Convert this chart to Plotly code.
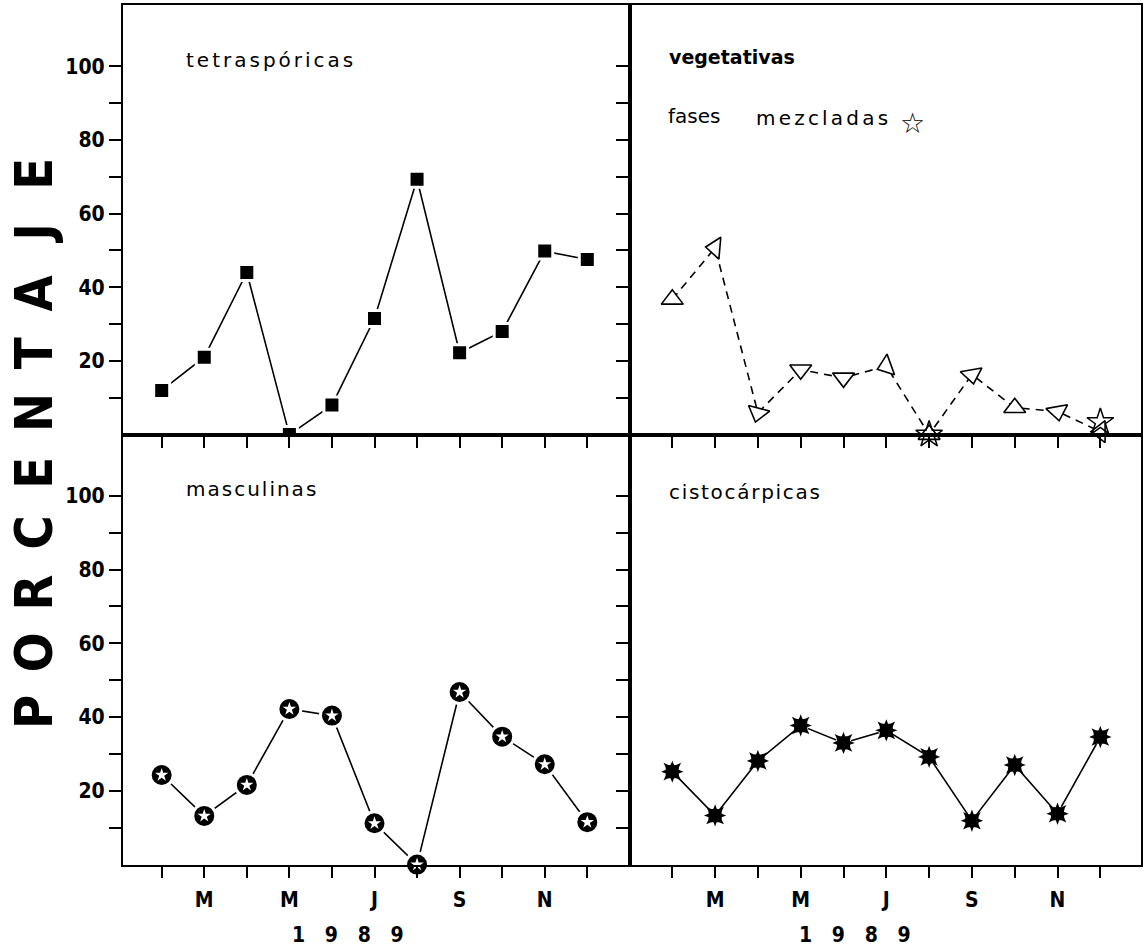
import plotly.graph_objects as go

# ---------------- data ----------------
months = [2, 3, 4, 5, 6, 7, 8, 9, 10, 11, 12]          # Feb .. Dec 1989
month_ticktext = ["", "M", "", "M", "", "J", "", "S", "", "N", ""]
year_text = "1\u00a0\u00a0\u00a09\u00a0\u00a0\u00a08\u00a0\u00a0\u00a09"
y_tickvals = [10, 20, 30, 40, 50, 60, 70, 80, 90, 100]
y_ticktext = ["", "20", "", "40", "", "60", "", "80", "", "100"]

tetrasporicas = [12, 21, 44, 0, 8, 31.5, 69.3, 22.2, 28, 49.8, 47.5]
vegetativas = [36.7, 50.7, 5.9, 17.6, 15.4, 18.6, 0, 16.3, 7.3, 6.3, 0.8]
mezcladas = [None, None, None, None, None, None, 0, None, None, None, 3.4]
masculinas = [24.3, 13.2, 21.6, 42.2, 40.4, 11.2, 0, 46.8, 34.7, 27.2, 11.5]
cistocarpicas = [25.2, 13.3, 28.1, 37.7, 33.0, 36.4, 29.2, 11.9, 27.0, 13.8, 34.6]

panel_titles = ["tetraspóricas", "vegetativas", "masculinas", "cistocárpicas"]
legend_words = ["fases", "mezcladas"]
y_title = "PORCENTAJE"

# marker orientation styles for the vegetative triangles
veg_angles = [0, -85, 195, 180, 180, 250, 0, 170, 0, 170, -90]

# ---------------- layout helpers ----------------
W, H = 1144, 948
def px(x):
    return x / W
def py(y):
    return 1 - y / H

xl = [px(123), px(630)]
xr = [px(630), px(1141)]
yt = [py(434.6), py(5)]
yb = [py(864.6), py(434.6)]
xrange_l = [1.091, 13.003]
xrange_r = [1.012, 12.95]
yrange = [0, 116.6]

tick_font = dict(family="DejaVu Sans Condensed, Liberation Sans Narrow, DejaVu Sans", size=21,
                 color="black", weight="bold")
label_font = dict(family="DejaVu Sans, Lato, sans-serif", size=20, color="black")

fig = go.Figure()

line_style = dict(color="black", width=1.6)

# tetrasporicas
fig.add_trace(go.Scatter(x=months, y=tetrasporicas, mode="lines+markers", xaxis="x", yaxis="y",
                         line=line_style,
                         marker=dict(symbol="square", size=16, color="black",
                                     line=dict(color="white", width=3)),
                         showlegend=False))

# vegetativas
fig.add_trace(go.Scatter(x=months, y=vegetativas, mode="lines+markers", xaxis="x2", yaxis="y2",
                         line=dict(color="black", width=1.6, dash="8px,6px"),
                         marker=dict(symbol="triangle-up", size=19, color="white", angle=veg_angles,
                                     line=dict(color="black", width=1.6)),
                         cliponaxis=False, showlegend=False))
# mezcladas
fig.add_trace(go.Scatter(x=months, y=mezcladas, mode="markers", xaxis="x2", yaxis="y2",
                         marker=dict(symbol="star-open", size=20, color="black",
                                     line=dict(color="black", width=1.5)),
                         cliponaxis=False, showlegend=False))

# masculinas
fig.add_trace(go.Scatter(x=months, y=masculinas, mode="lines+markers", xaxis="x3", yaxis="y3",
                         line=line_style,
                         marker=dict(symbol="circle", size=23, color="black",
                                     line=dict(color="white", width=3)),
                         cliponaxis=False, showlegend=False))
fig.add_trace(go.Scatter(x=months, y=masculinas, mode="markers", xaxis="x3", yaxis="y3",
                         marker=dict(symbol="star", size=10, color="white", line=dict(width=0)),
                         cliponaxis=False, showlegend=False))

# cistocarpicas
fig.add_trace(go.Scatter(x=months, y=cistocarpicas, mode="lines+markers", xaxis="x4", yaxis="y4",
                         line=line_style,
                         marker=dict(symbol="circle", size=16, color="white", line=dict(width=0)),
                         showlegend=False))
fig.add_trace(go.Scatter(x=months, y=cistocarpicas, mode="markers", xaxis="x4", yaxis="y4",
                         marker=dict(symbol="star-square", size=16, color="black", line=dict(width=0)),
                         showlegend=False))
fig.add_trace(go.Scatter(x=months, y=cistocarpicas, mode="markers", xaxis="x4", yaxis="y4",
                         marker=dict(symbol="star-diamond", size=16, color="black", line=dict(width=0)),
                         showlegend=False))

def xaxis(domain, rng, anchor, labels):
    return dict(domain=domain, range=rng, anchor=anchor, tickmode="array", tickvals=months,
                ticktext=month_ticktext if labels else [""] * len(months),
                ticks="outside", ticklen=11, tickwidth=1.6, tickcolor="black",
                showline=True, linewidth=2.2, linecolor="black", mirror=True,
                showgrid=False, zeroline=False, tickfont=tick_font, ticklabelstandoff=4,
                fixedrange=True)

def yaxis(domain, anchor, labels):
    return dict(domain=domain, range=yrange, anchor=anchor, tickmode="array", tickvals=y_tickvals,
                ticktext=y_ticktext if labels else [""] * len(y_tickvals),
                ticks="outside", ticklen=12, tickwidth=1.6, tickcolor="black",
                showline=True, linewidth=2.2, linecolor="black", mirror=True,
                showgrid=False, zeroline=False, tickfont=tick_font, ticklabelstandoff=0,
                fixedrange=True)

fig.update_layout(
    width=W, height=H, margin=dict(l=0, r=0, t=0, b=0),
    paper_bgcolor="white", plot_bgcolor="white",
    xaxis=xaxis(xl, xrange_l, "y", False),
    yaxis=yaxis(yt, "x", True),
    xaxis2=xaxis(xr, xrange_r, "y2", False),
    yaxis2=yaxis(yt, "x2", False),
    xaxis3=xaxis(xl, xrange_l, "y3", True),
    yaxis3=yaxis(yb, "x3", True),
    xaxis4=xaxis(xr, xrange_r, "y4", True),
    yaxis4=yaxis(yb, "x4", False),
)

ann = []
def add_text(text, x, y, font, xanchor="left", yanchor="middle", angle=0):
    ann.append(dict(text=text, x=px(x), y=py(y), xref="paper", yref="paper",
                    xanchor=xanchor, yanchor=yanchor, showarrow=False, font=font,
                    textangle=angle))

add_text(panel_titles[0], 184, 60, label_font)
add_text(panel_titles[1], 667, 57, dict(label_font, weight="bold", size=19))
add_text(legend_words[0], 666, 116, label_font)
add_text(legend_words[1], 754, 118, label_font)
add_text("\u2606", 912, 124, dict(family="DejaVu Sans", size=28, color="black"), xanchor="center")
add_text(panel_titles[2], 184, 489, label_font)
add_text(panel_titles[3], 667, 492, label_font)

add_text(year_text, 348, 935, tick_font, xanchor="center")
add_text(year_text, 855, 935, tick_font, xanchor="center")

big_font = dict(family="DejaVu Sans Condensed, Liberation Sans, DejaVu Sans", size=52,
                color="black", weight="bold")
for i, ch in enumerate(y_title):
    add_text(ch, 34, 712 - 59.8 * i, big_font, xanchor="center", angle=-90)

fig.update_layout(annotations=ann)

# typewriter-like letter spacing of the hand-set labels (left edge kept in place)
spacing_js = """
document.body.style.margin='0px';
var sp = {'tetraspóricas':'3px','masculinas':'2px','cistocárpicas':'1.7px','mezcladas':'3.2px'};
document.querySelectorAll('.annotation-text').forEach(function(t){
  var s = t.textContent;
  if (sp[s]) {
    var bb = t.getBBox();
    t.setAttribute('text-anchor','start');
    t.setAttribute('x', bb.x);
    t.querySelectorAll('tspan').forEach(function(ts){ if (ts.hasAttribute('x')) ts.setAttribute('x', bb.x); });
    t.style.letterSpacing = sp[s];
  }
});
"""
fig.write_html("out.html", post_script=spacing_js, config={"displayModeBar": False})
